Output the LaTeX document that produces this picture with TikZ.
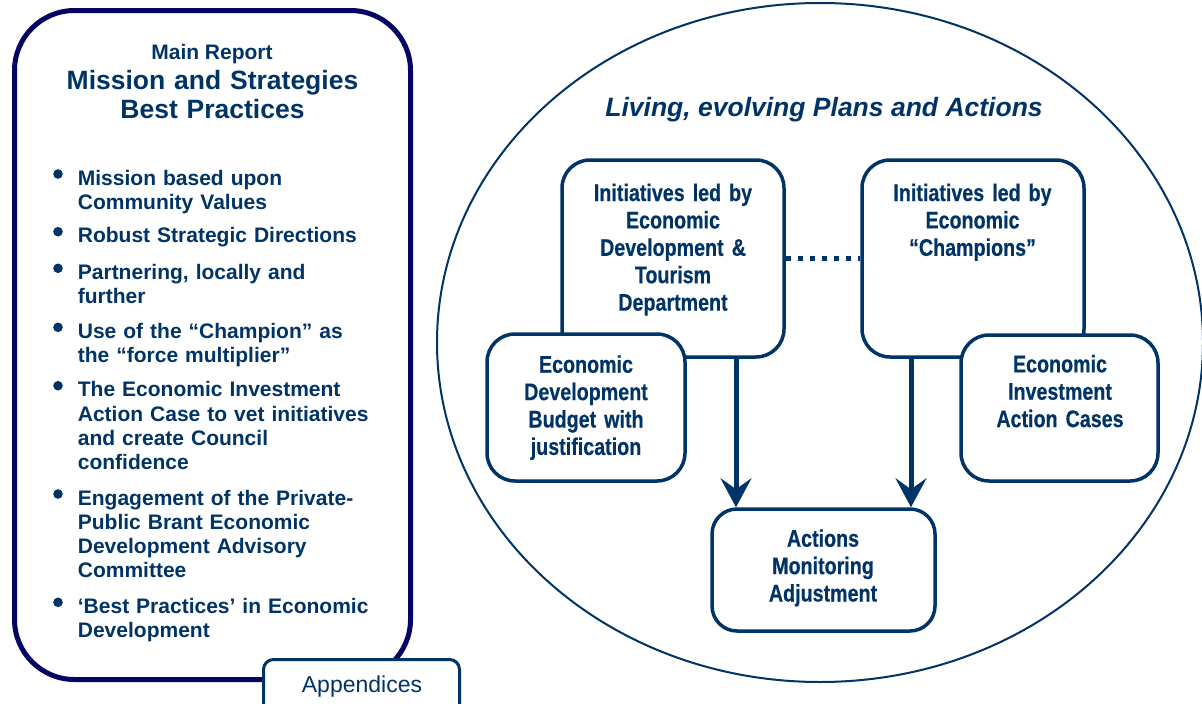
\documentclass[tikz,border=0pt]{standalone}
\usepackage{fontspec}
\setmainfont{Liberation Sans}
\newfontfamily\narrowfont{Liberation Sans}[FakeStretch=0.82,FakeBold=0.4]
\usetikzlibrary{arrows.meta}
\definecolor{ink}{RGB}{0,51,102}
\definecolor{framenavy}{RGB}{5,5,100}
\begin{document}
\begin{tikzpicture}[x=1pt,y=-1pt,
  every node/.style={text=ink},
  panel/.style={draw=ink, line width=3.5pt, fill=white, rounded corners=28pt, inner sep=0pt},
  boxtext/.style={font=\narrowfont\bfseries\fontsize{24}{27.4}\selectfont, text width=190pt, align=center, anchor=base, inner sep=0pt},
  bullettext/.style={font=\bfseries\fontsize{21}{24.3}\selectfont, text width=330pt, align=left, anchor=base west, inner sep=0pt},
  flow/.style={draw=ink, line width=5pt, -{Stealth[length=29pt,width=31pt,inset=11pt]}},
  linkdots/.style={draw=ink, line width=5pt, dash pattern=on 5.5pt off 6.5pt},
]
\useasboundingbox (0,0) rectangle (1202,704);
\clip (0,0) rectangle (1202,704);

% ---------- left panel: main report ----------
\node[draw=framenavy, line width=5pt, rounded corners=60pt, minimum width=396pt,
      minimum height=669pt, inner sep=0pt] (report) at (212.5,345) {};
\node[font=\bfseries\fontsize{21}{24}\selectfont, anchor=base] (mainrep) at (212,59.3) {Main Report};
\node[font=\bfseries\fontsize{26.5}{29}\selectfont, text width=380pt, align=center,
      anchor=base, inner sep=0pt] (title) at (212.5,89.3) {Mission and Strategies\\Best Practices};

\node[bullettext] (b1) at (77.7,185)   {Mission based upon\\Community Values};
\node[bullettext] (b2) at (77.7,242.7) {Robust Strategic Directions};
\node[bullettext] (b3) at (77.7,279.3) {Partnering, locally and\\further};
\node[bullettext] (b4) at (77.7,338.3) {Use of the “Champion” as\\the “force multiplier”};
\node[bullettext] (b5) at (77.7,396.7) {The Economic Investment\\Action Case to vet initiatives\\and create Council\\confidence};
\node[bullettext] (b6) at (77.7,505)   {Engagement of the Private-\\Public Brant Economic\\Development Advisory\\Committee};
\node[bullettext] (b7) at (77.7,613.3) {‘Best Practices’ in Economic\\Development};
\foreach \b in {b1,b2,b3,b4,b5,b6,b7}
  \fill[ink] ([xshift=-19.7pt,yshift=11pt]\b.base west) circle (4.8pt);

% appendices tab
\node[draw=ink, line width=3pt, fill=white, rounded corners=10pt, minimum width=196pt,
      minimum height=56pt, inner sep=0pt] (app) at (361.5,687.5) {};
\node[font=\fontsize{23}{27}\selectfont, anchor=base] (apptext) at (362,692) {Appendices};

% ---------- right: plans and actions ----------
\draw[ink, line width=2pt] (820,342.5) ellipse [x radius=383, y radius=339.5];
\node[font=\bfseries\itshape\fontsize{26.5}{30}\selectfont, anchor=base] (living) at (824,116.7)
  {Living, evolving Plans and Actions};

\node[panel, minimum width=222pt, minimum height=197pt] (A) at (673,258.5) {};
\node[panel, minimum width=222pt, minimum height=197pt] (C) at (973,258.5) {};
\draw[linkdots] (A.east) -- (C.west);
\node[panel, minimum width=198pt, minimum height=147pt] (B) at (586,407.5) {};
\node[panel, minimum width=197pt, minimum height=146pt] (D) at (1059.5,408) {};

\node[boxtext] (Atext) at (673,201) {Initiatives led by\\Economic\\Development \&\\Tourism\\Department};
\node[boxtext] (Ctext) at (972.5,201) {Initiatives led by\\Economic\\“Champions”};
\node[boxtext] (Btext) at (586,372.7) {Economic\\Development\\Budget with\\justification};
\node[boxtext] (Dtext) at (1060,372.3) {Economic\\Investment\\Action Cases};

\node[panel, rounded corners=25pt, minimum width=223pt, minimum height=122pt] (E) at (823.5,570) {};
\draw[flow] ([xshift=63pt]A.south) -- ([xshift=63pt]A.south |- E.north);
\draw[flow] ([xshift=-62pt]C.south) -- ([xshift=-62pt]C.south |- E.north);
\node[boxtext] (Etext) at (823,546.7) {Actions\\Monitoring\\Adjustment};
\end{tikzpicture}
\end{document}
